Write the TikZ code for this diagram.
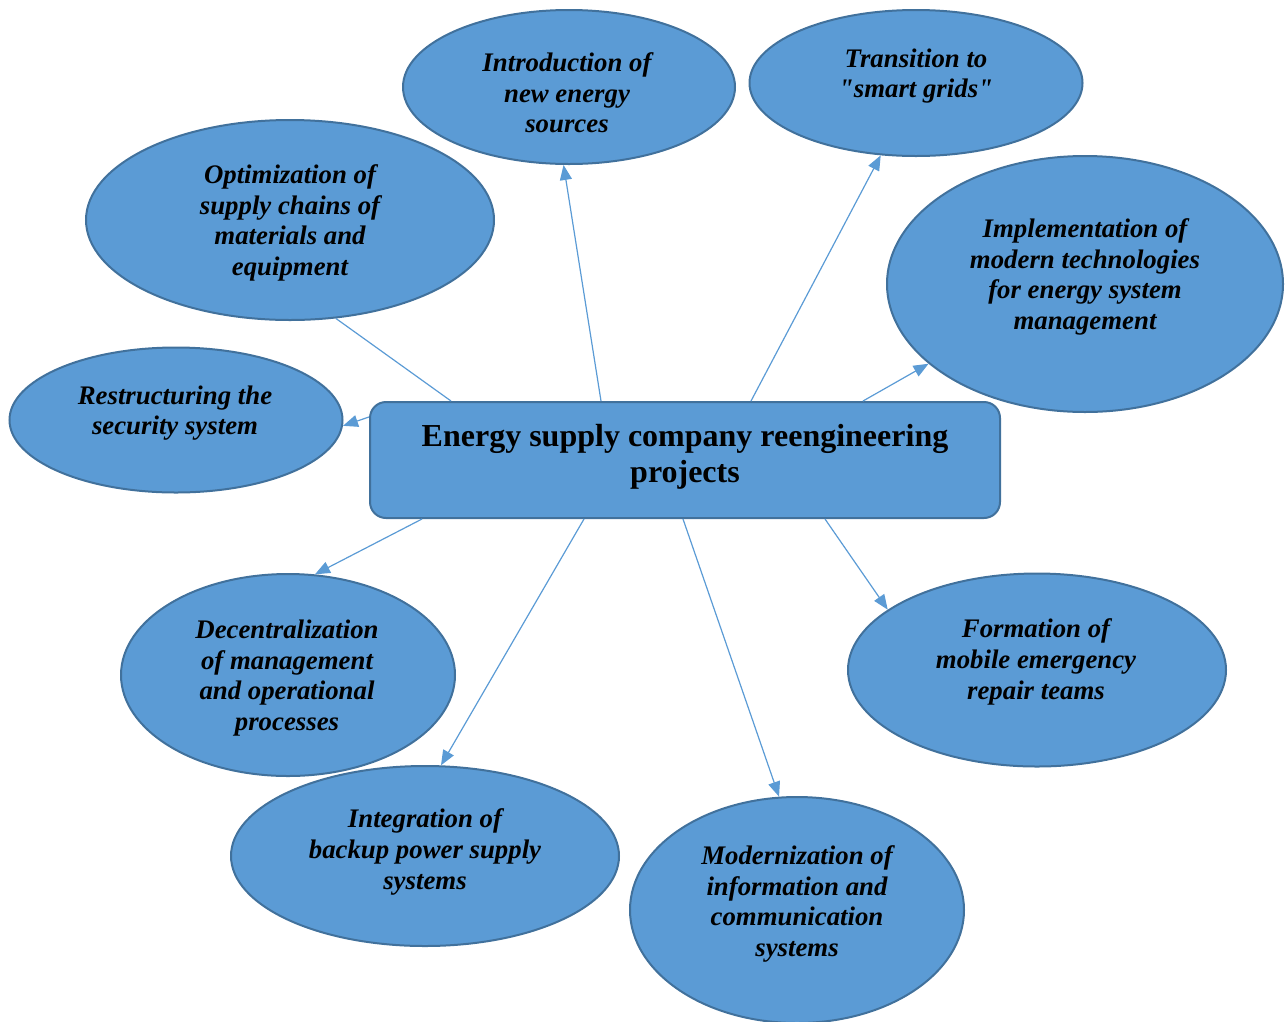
\documentclass[tikz,border=0pt]{standalone}
\usepackage{fontspec}
\setmainfont{Liberation Serif}
\usetikzlibrary{shapes.geometric,arrows.meta}
\definecolor{fillblue}{HTML}{5B9BD5}
\definecolor{edgeblue}{HTML}{41719C}
\tikzset{
  bubble/.style={ellipse,draw=edgeblue,line width=2pt,fill=fillblue,inner sep=0pt},
  btext/.style={align=center,font=\bfseries\itshape\fontsize{26.8}{30.7}\selectfont,inner sep=0pt},
  link/.style={draw=fillblue,line width=1.2pt,-{Triangle[length=15pt,width=12pt]}},
  plainlink/.style={draw=fillblue,line width=1.2pt},
}
\begin{document}
\begin{tikzpicture}[x=1pt,y=-1pt]
\useasboundingbox (0,0) rectangle (1287,1021);
% central box
\node[draw=edgeblue,line width=2pt,fill=fillblue,rounded corners=16pt,minimum width=630pt,minimum height=116pt,inner sep=0pt] (box) at (685,460) {};
\node[align=center,font=\bfseries\fontsize{32}{36.5}\selectfont,inner sep=0pt] (boxt) at (685,457) {Energy supply company reengineering\\projects};
% ellipses
\node[bubble,minimum width=332pt,minimum height=154pt] (e1) at (569,87) {};
\node[bubble,minimum width=333pt,minimum height=146pt] (e2) at (916,83) {};
\node[bubble,minimum width=408pt,minimum height=200pt] (e3) at (290,220) {};
\node[bubble,minimum width=396pt,minimum height=256pt] (e4) at (1085,284) {};
\node[bubble,minimum width=333pt,minimum height=145pt] (e5) at (176,420) {};
\node[bubble,minimum width=334pt,minimum height=202pt] (e6) at (288,675) {};
\node[bubble,minimum width=378pt,minimum height=193pt] (e7) at (1037,670) {};
\node[bubble,minimum width=388pt,minimum height=180pt] (e8) at (425,856) {};
\node[bubble,minimum width=334pt,minimum height=226pt] (e9) at (797,910) {};
% texts
\node[btext] (t1) at (567,93) {Introduction of\\new energy\\sources};
\node[btext] (t2) at (916,76) {Transition to\\\textquotedbl smart grids\textquotedbl};
\node[btext] (t3) at (290,223) {Optimization of\\supply chains of\\materials and\\equipment};
\node[btext] (t4) at (1085,277) {Implementation of\\modern technologies\\for energy system\\management};
\node[btext] (t5) at (175,413) {Restructuring the\\security system};
\node[btext] (t6) at (287,678) {Decentralization\\of management\\and operational\\processes};
\node[btext] (t7) at (1036,662) {Formation of\\mobile emergency\\repair teams};
\node[btext] (t8) at (425,852) {Integration of\\backup power supply\\systems};
\node[btext] (t9) at (797,904) {Modernization of\\information and\\communication\\systems};
% connectors
\draw[plainlink] ([xshift=82pt]box.north west) -- (e3.-65.3);
\draw[link] ([xshift=232pt]box.north west) -- (e1.-94.6);
\draw[link] ([xshift=382pt]box.north west) -- (e2.-116);
\draw[link] ([xshift=494pt]box.north west) -- (e4.-153.9);
\draw[link] ([yshift=-16pt]box.north west) -- (e5.-2);
\draw[link] ([xshift=53pt]box.south west) -- (e6.75);
\draw[link] ([xshift=215pt]box.south west) -- (e8.80.5);
\draw[link] ([xshift=314pt]box.south west) -- (e9.99.5);
\draw[link] ([xshift=456pt]box.south west) -- (e7.158.7);
\end{tikzpicture}
\end{document}
